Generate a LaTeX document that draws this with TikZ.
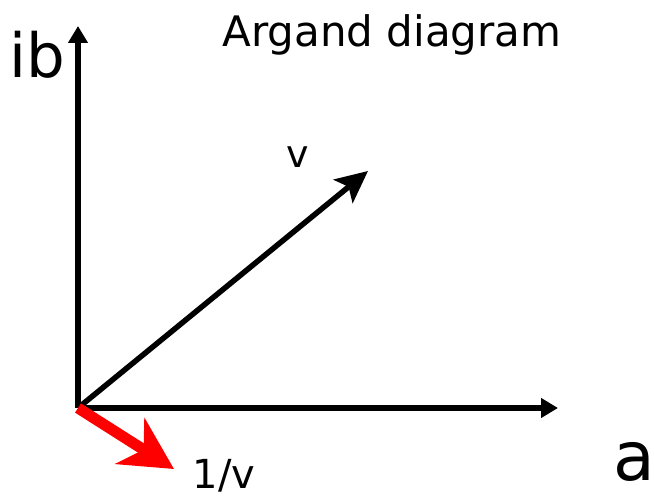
\documentclass[tikz,border=0pt]{standalone}
\usepackage{fontspec}
\setmainfont{DejaVu Sans}
\usetikzlibrary{arrows.meta}

\begin{document}
\begin{tikzpicture}[x=1pt,y=-1pt,
      axis/.style={line width=5.5pt,-{Triangle[length=17pt,width=19pt]}},
      vec/.style={line width=5.5pt,-{Stealth[length=32pt,width=30pt,inset=7pt]}},
      inv/.style={red,line width=11pt,-{Stealth[length=52pt,width=54pt,inset=16pt]}},
      lbl/.style={inner sep=0pt,anchor=base}]
      \useasboundingbox (0,0) rectangle (654,497);

      \coordinate (o) at (78,408);
      \coordinate (re) at (558,408);
      \coordinate (im) at (78,26);
      \coordinate (vtip) at (368,171);
      \coordinate (itip) at (174,469);

      \draw[axis] (o) -- (re);
      \draw[axis] (o) -- (im);
      \draw[vec] (o) -- (vtip);
      \draw[inv] (o) -- (itip);

      \node[lbl,font=\fontsize{61}{61}\selectfont] (ib) at (37,78) {ib};
      \node[lbl,font=\fontsize{68}{68}\selectfont] (a) at (634,480) {a};
      \node[lbl,font=\fontsize{42}{42}\selectfont] (title) at (392,47) {Argand diagram};
      \node[lbl,font=\fontsize{38}{38}\selectfont] (v) at (298,168) {v};
      \node[lbl,font=\fontsize{40}{40}\selectfont] (inv) at (224,488) {1/v};
    \end{tikzpicture}
\end{document}
